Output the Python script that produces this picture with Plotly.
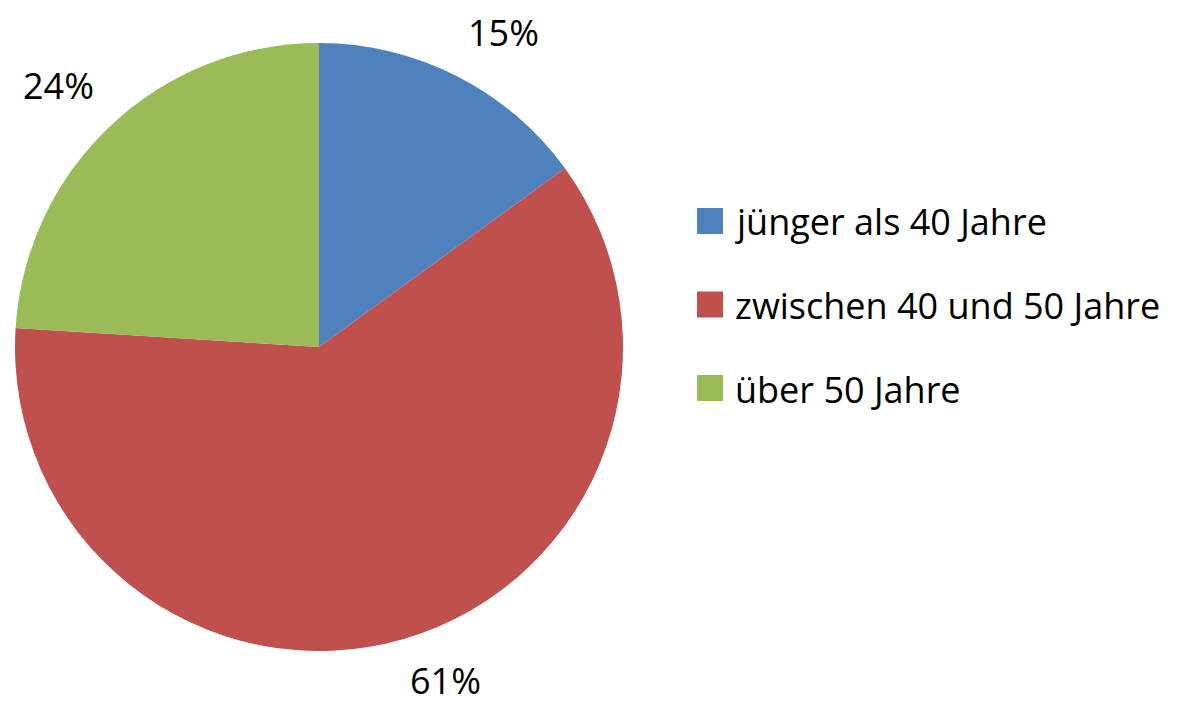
import math
import plotly.graph_objects as go

labels = ["jünger als 40 Jahre", "zwischen 40 und 50 Jahre", "über 50 Jahre"]
values = [15, 61, 24]
colors = ["#4F81BD", "#C0504D", "#9BBB59"]

# window is 1178x705; the page body adds an 8px margin, so the figure is 8px smaller
OFF = 8
PAGE_H = 705
W, H = 1178 - OFF, PAGE_H - OFF
FONT = "Open Sans, sans-serif"
FS = 36


def fx(px):
    return (px - OFF) / W


def fy(py):
    return 1 - (py - OFF) / H


# pie geometry in page pixels
cx, cy, r = 319, 347, 304

fig = go.Figure(go.Pie(
    labels=labels, values=values, sort=False, direction="clockwise", rotation=0,
    marker=dict(colors=colors, line=dict(width=0)),
    textinfo="none", hoverinfo="label+percent", showlegend=False,
    domain=dict(x=[fx(cx - r), fx(cx + r)], y=[fy(cy + r), fy(cy - r)]),
))

annotations = []
shapes = []
# percentage labels: box corner placed on the slice mid-angle, outside the pie
total = sum(values)
cum = 0
label_r = r + 26
for v in values:
    mid = (cum + v / 2) / total * 2 * math.pi
    cum += v
    ux, uy = math.sin(mid), -math.cos(mid)
    sx = 1 if ux > 0 else -1
    sy = 1 if uy > 0 else -1
    px = cx + label_r * ux - 3 * sx
    py = cy + label_r * uy + 21 * sy
    py = min(py, PAGE_H - 25)  # keep the text inside the page
    annotations.append(dict(
        x=fx(px), y=fy(py), xref="paper", yref="paper",
        text=f"{round(v / total * 100)}%", showarrow=False,
        xanchor="left" if sx > 0 else "right", yanchor="middle",
        height=34, valign="middle",
        font=dict(family=FONT, size=FS, color="#000000"),
    ))

# custom legend
lx, ly0, dy, sq = 697, 221, 83.5, 26
for i, (lab, col) in enumerate(zip(labels, colors)):
    yc = ly0 + i * dy
    shapes.append(dict(type="rect", xref="paper", yref="paper",
                       x0=fx(lx), x1=fx(lx + sq),
                       y0=fy(yc + sq / 2), y1=fy(yc - sq / 2),
                       fillcolor=col, line=dict(width=0)))
    annotations.append(dict(
        x=fx(lx + sq + 10), y=fy(yc + 1), xref="paper", yref="paper",
        text=lab, showarrow=False, xanchor="left", yanchor="middle",
        font=dict(family=FONT, size=FS, color="#000000"),
    ))

fig.update_layout(
    width=W, height=H, margin=dict(l=0, r=0, t=0, b=0),
    paper_bgcolor="white", plot_bgcolor="white",
    annotations=annotations, shapes=shapes,
)

fig.write_html("out.html")
